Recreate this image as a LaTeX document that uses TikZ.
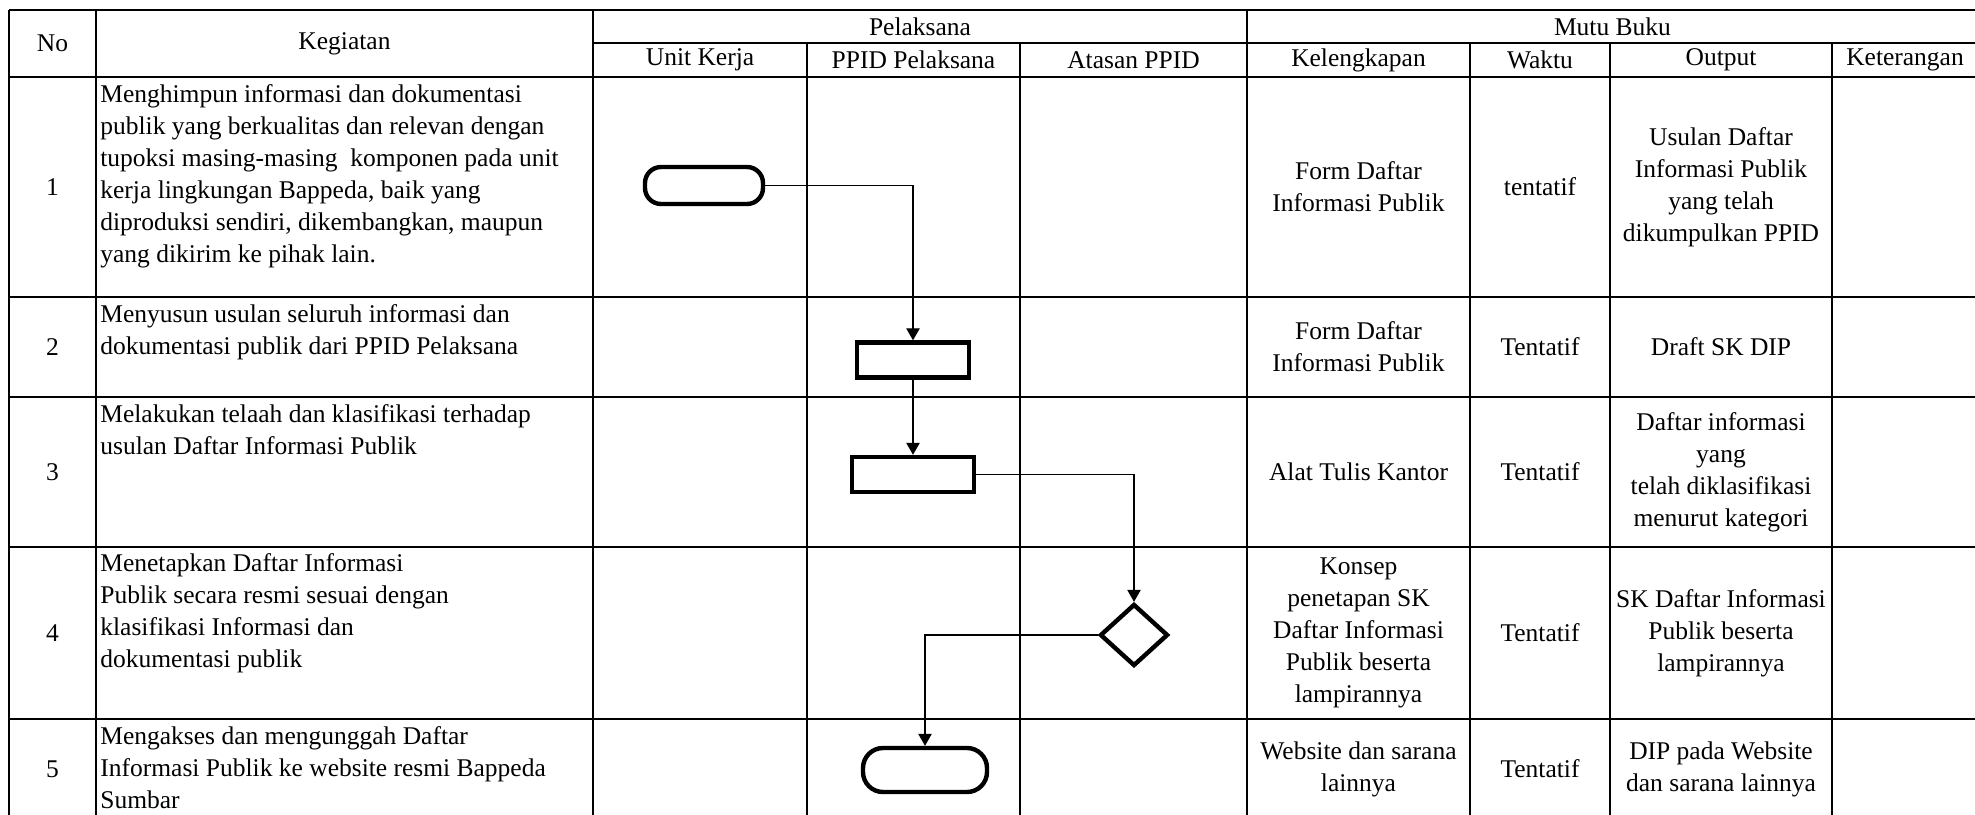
\documentclass[tikz,border=0pt]{standalone}
\usepackage{fontspec}
\setmainfont{Liberation Serif}
\usetikzlibrary{arrows.meta,shapes.geometric}

\begin{document}
\begin{tikzpicture}[x=0.5pt,y=-0.5pt,>={Triangle[length=6pt,width=6.7pt]},
		font=\fontsize{12.75}{16}\selectfont]
		\tikzstyle{grid}=[line width=1pt]
		\tikzstyle{cell}=[align=center,inner sep=0pt]
		\tikzstyle{kegiatan}=[align=left,inner sep=0pt,anchor=north west]
		\tikzstyle{terminal}=[draw,line width=2.2pt,inner sep=0pt]
		\tikzstyle{process}=[draw,line width=2.2pt,inner sep=0pt,minimum height=17.5pt]
		\tikzstyle{decision}=[draw,diamond,line width=2.2pt,inner sep=0pt,minimum width=34pt,minimum height=31pt]
		\tikzstyle{flow}=[->,line width=0.6pt]
		\useasboundingbox (0,0) rectangle (1975,814);
		
		% table lines
		\foreach \y in {10,77,297,397,547,719,820}
			\draw[grid] (9,\y) -- (1978,\y);
		\draw[grid] (593,43) -- (1978,43);
		\foreach \x in {9,96,593,1247}
			\draw[grid] (\x,10) -- (\x,820);
		\foreach \x in {807,1020,1470,1610,1832}
			\draw[grid] (\x,43) -- (\x,820);
		
		% header
		\node[cell] (no)        at (52.5,43.5) {No};
		\node[cell] (kegiatan)  at (344.5,43.5) {Kegiatan};
		\node[cell] (pelaksana) at (920,26.5)  {Pelaksana};
		\node[cell] (mutu)      at (1612.5,26.5) {Mutu Buku};
		\node[cell] (unit)      at (700,60)    {Unit Kerja};
		\node[cell] (ppid)      at (913.5,60)  {PPID Pelaksana};
		\node[cell] (atasan)    at (1133.5,60) {Atasan PPID};
		\node[cell] (kel)       at (1358.5,60) {Kelengkapan};
		\node[cell] (waktu)     at (1540,60)   {Waktu};
		\node[cell] (output)    at (1721,60)   {Output};
		\node[cell] (ket)       at (1905,60)   {Keterangan};
		
		% row 1
		\node[cell] (noA) at (52.5,187) {1};
		\node[kegiatan] (kegA) at (100,84) {Menghimpun informasi dan dokumentasi\\publik yang berkualitas dan relevan dengan\\tupoksi masing-masing\ \ komponen pada unit\\kerja lingkungan Bappeda, baik yang\\diproduksi sendiri, dikembangkan, maupun\\yang dikirim ke pihak lain.};
		\node[cell] (kelA) at (1358.5,187) {Form Daftar\\Informasi Publik};
		\node[cell] (wakA) at (1540,187) {tentatif};
		\node[cell] (outA) at (1721,187) {Usulan Daftar\\Informasi Publik\\yang telah\\dikumpulkan PPID};
		% row 2
		\node[cell] (noB) at (52.5,347) {2};
		\node[kegiatan] (kegB) at (100,304) {Menyusun usulan seluruh informasi dan\\dokumentasi publik dari PPID Pelaksana};
		\node[cell] (kelB) at (1358.5,347) {Form Daftar\\Informasi Publik};
		\node[cell] (wakB) at (1540,347) {Tentatif};
		\node[cell] (outB) at (1721,347) {Draft SK DIP};
		% row 3
		\node[cell] (noC) at (52.5,472) {3};
		\node[kegiatan] (kegC) at (100,404) {Melakukan telaah dan klasifikasi terhadap\\usulan Daftar Informasi Publik};
		\node[cell] (kelC) at (1358.5,472) {Alat Tulis Kantor};
		\node[cell] (wakC) at (1540,472) {Tentatif};
		\node[cell] (outC) at (1721,472) {Daftar informasi\\yang\\telah diklasifikasi\\menurut kategori};
		% row 4
		\node[cell] (noD) at (52.5,633) {4};
		\node[kegiatan] (kegD) at (100,553) {Menetapkan Daftar Informasi\\Publik secara resmi sesuai dengan\\klasifikasi Informasi dan\\dokumentasi publik};
		\node[cell] (kelD) at (1358.5,633) {Konsep\\penetapan SK\\Daftar Informasi\\Publik beserta\\lampirannya};
		\node[cell] (wakD) at (1540,633) {Tentatif};
		\node[cell] (outD) at (1721,633) {SK Daftar Informasi\\Publik beserta\\lampirannya};
		% row 5
		\node[cell] (noE) at (52.5,769) {5};
		\node[kegiatan] (kegE) at (100,726) {Mengakses dan mengunggah Daftar\\Informasi Publik ke website resmi Bappeda\\Sumbar};
		\node[cell] (kelE) at (1358.5,769) {Website dan sarana\\lainnya};
		\node[cell] (wakE) at (1540,769) {Tentatif};
		\node[cell] (outE) at (1721,769) {DIP pada Website\\dan sarana lainnya};
		
		% flow
		\node[terminal,rounded corners=8pt,minimum width=59pt,minimum height=18.5pt] (start) at (704,185.5) {};
		\node[process,minimum width=56pt]   (susun)  at (913,360) {};
		\node[process,minimum width=61pt]   (telaah) at (913,474.5) {};
		\node[decision]                      (tetap)  at (1134,635) {};
		\node[terminal,rounded corners=10pt,minimum width=62pt,minimum height=22pt] (unggah) at (925,770) {};
		
		\draw[flow] (start) -| (susun);
		\draw[flow] (susun) -- (telaah);
		\draw[flow] (telaah) -| (tetap);
		\draw[flow] (tetap) -| (unggah);
		\end{tikzpicture}
\end{document}
